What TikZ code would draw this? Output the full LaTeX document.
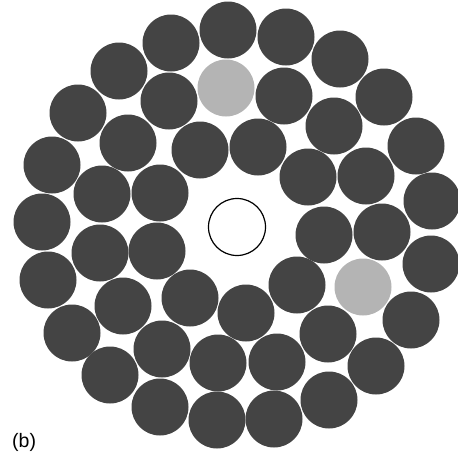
\documentclass[tikz,border=0pt]{standalone}
\usepackage{fontspec}
\setmainfont{Liberation Sans}
\definecolor{darkwire}{RGB}{68,68,68}
\definecolor{lightwire}{RGB}{180,180,180}
\begin{document}
\begin{tikzpicture}[x=1pt,y=-1pt,
  wire/.style={fill=darkwire},
  gwire/.style={fill=lightwire},
  core/.style={draw=black,line width=1.2pt,fill=white}]
\useasboundingbox (0,0) rectangle (458,453);
\def\R{28.5}
% outer ring
\foreach \x/\y in {228/30,286/37,340/59,384/97,416/146,432/201,431/264,411/320,376/366,329/400,274/419,217/420,160/407,110/375,72/333,48/280,42/222,52/165,78/113,119/71,171/43}
  \fill[wire] (\x,\y) circle (\R);
% middle ring
\foreach \x/\y in {284/96,334/126,366/176,382/232,328/334,277/362,218/363,162/349,123/306,100/253,102/194,128/143,169/101}
  \fill[wire] (\x,\y) circle (\R);
\fill[gwire] (226,88) circle (\R);
\fill[gwire] (363,287) circle (\R);
% inner ring
\foreach \x/\y in {200/150,258/147,308/177,324/235,297/285,246/313,190/298,157/251,160/193}
  \fill[wire] (\x,\y) circle (\R);
% central core
\draw[core] (237,227) circle (28.5);
\node[anchor=base west,inner sep=0pt,font=\fontsize{19.5}{22}\selectfont] (lab) at (12,447) {(b)};
\end{tikzpicture}
\end{document}
